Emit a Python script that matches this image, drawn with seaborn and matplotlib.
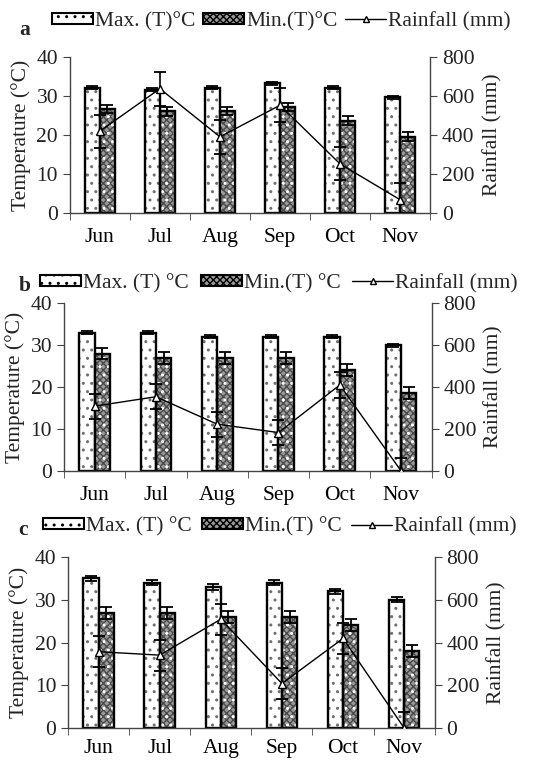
import numpy as np
import pandas as pd
import matplotlib
matplotlib.use("Agg")
import matplotlib.pyplot as plt
import seaborn as sns
from matplotlib.patches import Patch, Rectangle
from matplotlib.lines import Line2D

months = ["Jun", "Jul", "Aug", "Sep", "Oct", "Nov"]

# Panel a
max_a = [32.2, 31.6, 32.2, 33.3, 32.1, 29.7]
max_a_err = [0.4, 0.4, 0.4, 0.4, 0.4, 0.4]
min_a = [26.7, 26.1, 26.2, 27.2, 23.7, 19.6]
min_a_err = [1.1, 1.1, 1.1, 1.1, 1.1, 1.1]
rain_a = [420, 638, 391, 553, 252, 68]
rain_a_err = [85, 88, 88, 88, 85, 85]

# Panel b
max_b = [33.0, 33.0, 32.0, 32.0, 32.0, 30.0]
max_b_err = [0.4, 0.4, 0.4, 0.4, 0.4, 0.4]
min_b = [28.0, 27.0, 27.0, 27.0, 24.0, 18.6]
min_b_err = [1.4, 1.4, 1.4, 1.4, 1.4, 1.4]
rain_b = [309, 354, 223, 183, 410, 0]
rain_b_err = [60, 60, 60, 60, 60, 62]

# Panel c
max_c = [35.0, 34.0, 33.0, 34.0, 32.0, 30.0]
max_c_err = [0.6, 0.6, 0.6, 0.6, 0.6, 0.6]
min_c = [27.0, 27.0, 26.0, 26.0, 24.0, 18.0]
min_c_err = [1.4, 1.4, 1.4, 1.4, 1.4, 1.4]
rain_c = [357, 341, 509, 208, 419, 0]
rain_c_err = [72, 72, 72, 72, 72, 75]

labels_a = ["Max. (T)°C", "Min.(T)°C", "Rainfall (mm)"]
labels_bc = ["Max. (T) °C", "Min.(T) °C", "Rainfall (mm)"]

sns.set_style("ticks")
plt.rcParams["font.family"] = ["Liberation Serif", "DejaVu Serif"]
plt.rcParams["hatch.linewidth"] = 1.0

fig = plt.figure(figsize=(5.33, 7.62), dpi=100)

panels = [
    dict(letter="a", mx=max_a, mxe=max_a_err, mn=min_a, mne=min_a_err, r=rain_a, re=rain_a_err,
         labels=labels_a, pos=[0.131, 0.7205, 0.676, 0.2045], leg=(0.098, 0.972), cs=0.35,
         let=(0.037, 0.960), pad=11),
    dict(letter="b", mx=max_b, mxe=max_b_err, mn=min_b, mne=min_b_err, r=rain_b, re=rain_b_err,
         labels=labels_bc, pos=[0.120, 0.382, 0.690, 0.220], leg=(0.075, 0.628), cs=0.55,
         let=(0.035, 0.625), pad=11),
    dict(letter="c", mx=max_c, mxe=max_c_err, mn=min_c, mne=min_c_err, r=rain_c, re=rain_c_err,
         labels=labels_bc, pos=[0.1276, 0.0446, 0.688, 0.2244], leg=(0.081, 0.309), cs=0.45,
         let=(0.035, 0.305), pad=8),
]

FS = 15.5
SPINE = "#444444"
MIN_FACE = "#9a9a9a"
MIN_HATCH = "#4a4a4a"

for p in panels:
    ax = fig.add_axes(p["pos"])
    df = pd.DataFrame({
        "month": months * 2,
        "series": ["Max"] * 6 + ["Min"] * 6,
        "value": list(p["mx"]) + list(p["mn"]),
    })
    sns.barplot(data=df, x="month", y="value", hue="series", order=months,
                hue_order=["Max", "Min"], width=0.5, errorbar=None, ax=ax,
                palette={"Max": "white", "Min": MIN_FACE}, legend=False,
                linewidth=0, edgecolor="none", zorder=2)
    cont_max, cont_min = ax.containers[0], ax.containers[1]
    for bar in cont_max:
        bar.set_hatch("..")
        bar.set_edgecolor("#707070")
        bar.set_linewidth(0)
    for bar in cont_min:
        bar.set_hatch("xxxxx")
        bar.set_edgecolor(MIN_HATCH)
        bar.set_linewidth(0)
        ov = Rectangle((bar.get_x(), bar.get_y()), bar.get_width(), bar.get_height(),
                       fill=False, hatch="..", edgecolor="white", linewidth=0, zorder=2.1)
        ax.add_patch(ov)
    for cont in (cont_max, cont_min):
        for bar in cont:
            outline = Rectangle((bar.get_x(), bar.get_y()), bar.get_width(), bar.get_height(),
                                fill=False, edgecolor="black", linewidth=1.7, zorder=2.5)
            ax.add_patch(outline)
    xs_max = [b.get_x() + b.get_width() / 2 for b in cont_max]
    xs_min = [b.get_x() + b.get_width() / 2 for b in cont_min]
    ax.errorbar(xs_max, p["mx"], yerr=p["mxe"], fmt="none", ecolor="black",
                elinewidth=1.3, capsize=4.5, capthick=1.3, zorder=3)
    ax.errorbar(xs_min, p["mn"], yerr=p["mne"], fmt="none", ecolor="black",
                elinewidth=1.3, capsize=4.5, capthick=1.3, zorder=3)

    ax.set_ylim(0, 40)
    ax.set_yticks([0, 10, 20, 30, 40])
    ax.set_xlim(-0.5, 5.5)
    ax.set_xticks(range(6))
    ax.set_xticklabels(months)
    ax.set_xticks(np.arange(-0.5, 6.0, 1.0), minor=True)
    ax.tick_params(axis="x", which="major", length=0, labelsize=FS, pad=p["pad"], colors="black")
    ax.tick_params(axis="x", which="minor", length=5, direction="out", color=SPINE)
    ax.tick_params(axis="y", length=5, direction="out", color=SPINE, labelsize=FS, labelcolor="#222222")
    ax.set_xlabel("")
    ax.set_ylabel("Temperature (°C)", fontsize=FS, labelpad=4, color="#222222")
    for s in ("top", "right"):
        ax.spines[s].set_visible(False)
    for s in ("left", "bottom"):
        ax.spines[s].set_color(SPINE)
        ax.spines[s].set_linewidth(1.0)

    ax2 = ax.twinx()
    xpos = np.arange(len(months))
    ax2.errorbar(xpos, p["r"], yerr=p["re"], fmt="none", ecolor="black",
                 elinewidth=1.2, capsize=4, capthick=1.3, zorder=3)
    sns.lineplot(x=xpos, y=p["r"], ax=ax2, color="black", linewidth=1.0, marker="^",
                 markersize=6, markerfacecolor="white", markeredgecolor="black",
                 markeredgewidth=1.0, zorder=4)
    ax2.set_ylim(0, 800)
    ax2.set_yticks([0, 200, 400, 600, 800])
    ax2.set_xlim(-0.5, 5.5)
    ax2.tick_params(axis="y", length=5, direction="out", color=SPINE, labelsize=FS, labelcolor="#222222")
    ax2.set_ylabel("Rainfall (mm)", fontsize=FS, labelpad=6, color="#222222")
    for s in ("top", "left", "bottom"):
        ax2.spines[s].set_visible(False)
    ax2.spines["right"].set_color(SPINE)
    ax2.spines["right"].set_linewidth(1.0)

    handles = [
        Patch(facecolor="white", edgecolor="black", hatch="..", linewidth=1.5),
        Patch(facecolor=MIN_FACE, edgecolor="black", hatch="xxxxx", linewidth=1.5),
        Line2D([0], [0], color="black", lw=1.0, marker="^", markersize=5,
               markerfacecolor="white", markeredgecolor="black"),
    ]
    fig.legend(handles, p["labels"], loc="center left", bbox_to_anchor=p["leg"],
               ncol=3, frameon=False, fontsize=FS, handlelength=1.9, handleheight=0.45,
               handletextpad=0.1, columnspacing=p["cs"], borderaxespad=0, borderpad=0)
    fig.text(p["let"][0], p["let"][1], p["letter"], fontsize=FS, fontweight="bold",
             ha="left", va="center")

fig.savefig("out.png", dpi=100)
